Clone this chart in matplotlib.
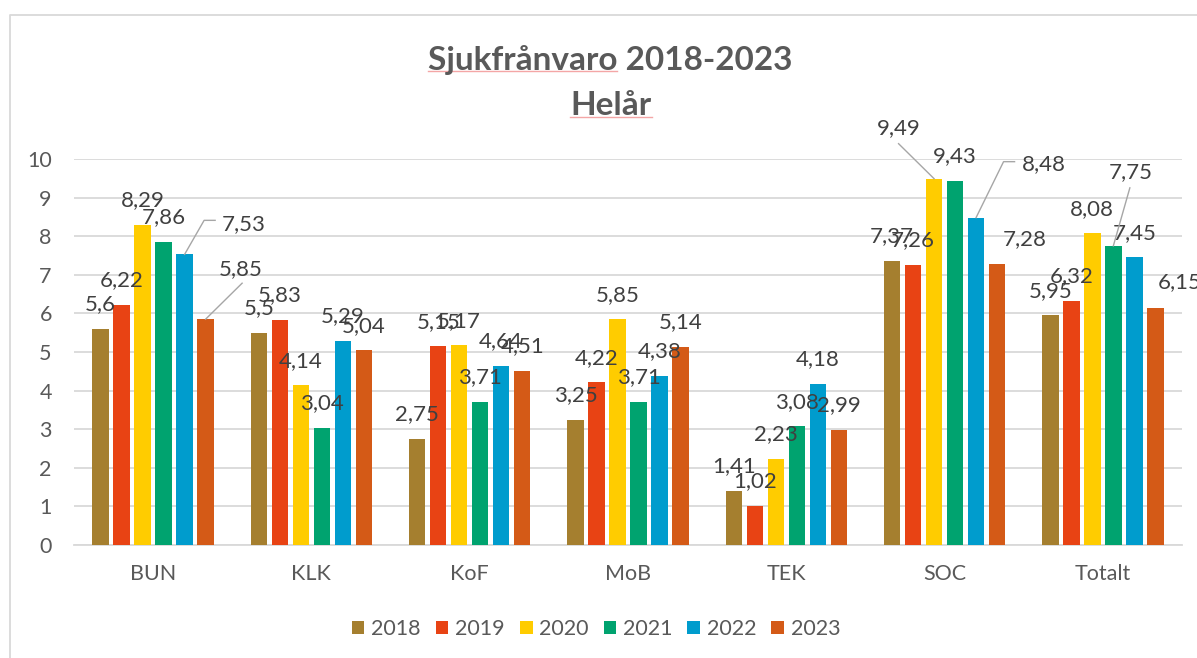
import numpy as np
import matplotlib.pyplot as plt
from matplotlib.lines import Line2D
from matplotlib.patches import Patch
from matplotlib.transforms import IdentityTransform

plt.rcParams['font.family'] = ['Lato', 'DejaVu Sans']

# Data
categories = ['BUN', 'KLK', 'KoF', 'MoB', 'TEK', 'SOC', 'Totalt']
years = ['2018', '2019', '2020', '2021', '2022', '2023']
v2018 = [5.6, 5.5, 2.75, 3.25, 1.41, 7.37, 5.95]
v2019 = [6.22, 5.83, 5.15, 4.22, 1.02, 7.26, 6.32]
v2020 = [8.29, 4.14, 5.17, 5.85, 2.23, 9.49, 8.08]
v2021 = [7.86, 3.04, 3.71, 3.71, 3.08, 9.43, 7.75]
v2022 = [7.53, 5.29, 4.64, 4.38, 4.18, 8.48, 7.45]
v2023 = [5.85, 5.04, 4.51, 5.14, 2.99, 7.28, 6.15]
series = [v2018, v2019, v2020, v2021, v2022, v2023]
colors = ['#A57F2F', '#E84314', '#FFCC00', '#00A36F', '#009CCD', '#D45A17']

# labels that Excel pushed away from the bar top: (category, year) ->
# label centre offset in pixels, leader line points in pixels
moved = {
    (0, 4): ((59.5, 32), [(19.5, 34), (30.5, 34)]),
    (0, 5): ((35.5, 52), [(36.5, 36)]),
    (5, 2): ((-35.5, 52), [(-35.5, 35)]),
    (5, 4): ((67.5, 55), [(27.5, 56), (38.5, 56)]),
    (5, 5): ((27.5, 26), []),
    (6, 3): ((17.5, 75), [(16.5, 58)]),
    (6, 5): ((24.5, 27), []),
}

W, H = 1197, 658
fig = plt.figure(figsize=(W / 100, H / 100), dpi=100)
ax = fig.add_axes([74 / W, 1 - 545 / H, (1182 - 74) / W, (545 - 159) / H])

x = np.arange(len(categories))
slot = 0.1326
width = 0.104
for i, vals in enumerate(series):
    ax.bar(x + (i - 2.5) * slot, vals, width, color=colors[i], zorder=3)

ax.set_xlim(-0.5, len(categories) - 0.5)
ax.set_ylim(0, 10)
ax.set_yticks(range(0, 11))
ax.set_xticks(x)
ax.set_xticklabels(categories)
ax.yaxis.grid(True, color='#D9D9D9', linewidth=1.3, zorder=0)
ax.set_axisbelow(True)
for s in ['top', 'right', 'left']:
    ax.spines[s].set_visible(False)
ax.spines['bottom'].set_color('#D9D9D9')
ax.spines['bottom'].set_linewidth(1.3)
ax.tick_params(axis='y', length=0, pad=16, labelsize=15.5, labelcolor='#595959')
ax.tick_params(axis='x', length=0, pad=14, labelsize=15.5, labelcolor='#595959')

# value labels
for i, vals in enumerate(series):
    for j, v in enumerate(vals):
        bx = j + (i - 2.5) * slot
        txt = ('%g' % v).replace('.', ',')
        if (j, i) in moved:
            (dx, dy), leader = moved[(j, i)]
        else:
            dx, dy, leader = 0, 26, []
        ax.annotate(txt, (bx, v), xytext=(dx, dy - 7.5), textcoords='offset pixels',
                    ha='center', va='baseline', fontsize=16, color='#404040', zorder=5)
        if leader:
            px, py = ax.transData.transform((bx, v))
            xs = [px] + [px + p[0] for p in leader]
            ys = [py] + [py + p[1] for p in leader]
            fig.add_artist(Line2D(xs, ys, transform=IdentityTransform(),
                                  color='#A6A6A6', linewidth=1.0))

# title
t1 = fig.text(610 / W, 1 - 70 / H, 'Sjukfrånvaro 2018-2023', ha='center', va='baseline',
              fontsize=24, fontweight='bold', color='#595959')
t2 = fig.text(611 / W, 1 - 115 / H, 'Helår', ha='center', va='baseline',
              fontsize=24, fontweight='bold', color='#595959')

# spell-check squiggle under the words
renderer = fig.canvas.get_renderer()
bb1 = t1.get_window_extent(renderer)
tmp = fig.text(0, 0, 'Sjukfrånvaro', fontsize=24, fontweight='bold')
w_word = tmp.get_window_extent(renderer).width
tmp.remove()
bb2 = t2.get_window_extent(renderer)
base1 = H - 71
base2 = H - 117
fig.add_artist(Line2D([bb1.x0, bb1.x0 + w_word], [base1, base1], transform=IdentityTransform(),
                      color='#F4A6A6', linewidth=1.0))
fig.add_artist(Line2D([bb2.x0, bb2.x1], [base2, base2], transform=IdentityTransform(),
                      color='#F4A6A6', linewidth=1.0))

# legend
handles = [Patch(facecolor=c, edgecolor='none') for c in colors]
fig.legend(handles, years, loc='center', bbox_to_anchor=(596 / W, 1 - 629 / H), ncol=6,
           frameon=False, fontsize=15.5, labelcolor='#595959', handlelength=0.6,
           handleheight=0.6, handletextpad=0.3, columnspacing=0.7)

# chart border (top and left edges visible)
fig.add_artist(Line2D([10 / W, 10 / W, 1.0], [0.0, 1 - 15 / H, 1 - 15 / H],
                      transform=fig.transFigure, color='#D9D9D9', linewidth=1.3))

fig.savefig('out.png', dpi=100)
